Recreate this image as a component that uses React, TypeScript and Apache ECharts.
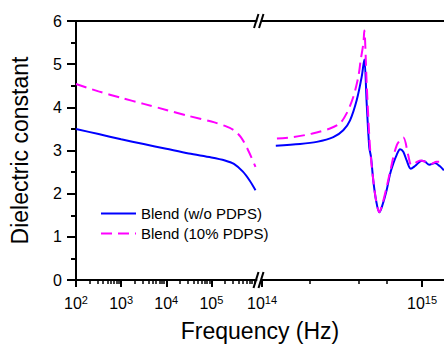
import React, { useEffect, useRef } from "react";
import * as echarts from "echarts";

// Left (low-frequency) segment, Hz
const blueLeftHz = [1e2, 3.16e2, 1e3, 3.16e3, 1e4, 3.16e4, 1e5, 2e5, 3.16e5, 5e5, 7.1e5, 9.5e5];
const blueLeftEps = [3.5, 3.38, 3.26, 3.15, 3.04, 2.93, 2.84, 2.77, 2.69, 2.51, 2.3, 2.08];
const pinkLeftHz = [1e2, 3.16e2, 1e3, 3.16e3, 1e4, 3.16e4, 1e5, 2e5, 3.16e5, 4.5e5, 6.3e5, 9.5e5];
const pinkLeftEps = [4.54, 4.37, 4.22, 4.08, 3.94, 3.8, 3.67, 3.57, 3.47, 3.31, 3.04, 2.62];

// Right (optical) segment, Hz
const blueRightHz = [
  1.22e14, 1.73e14, 2.2e14, 2.79e14, 3.22e14, 3.55e14, 3.91e14, 4.2e14, 4.36e14, 4.51e14,
  4.68e14, 4.8e14, 4.96e14, 5.16e14, 5.41e14, 5.62e14, 6.01e14, 6.31e14, 6.62e14, 6.95e14,
  7.29e14, 7.64e14, 8.02e14, 8.5e14, 9.04e14, 9.96e14, 1.045e15, 1.11e15, 1.205e15, 1.29e15, 1.37e15,
];
const blueRightEps = [
  3.11, 3.15, 3.2, 3.31, 3.47, 3.7, 4.17, 4.71, 5.11, 4.1,
  3.08, 2.85, 2.31, 1.85, 1.57, 1.7, 2.08, 2.45, 2.7, 2.9,
  3.03, 2.97, 2.77, 2.58, 2.64, 2.76, 2.74, 2.67, 2.71, 2.64, 2.54,
];
const pinkRightHz = [
  1.24e14, 1.57e14, 2.04e14, 2.66e14, 3.07e14, 3.38e14, 3.72e14, 4.0e14, 4.14e14, 4.3e14,
  4.36e14, 4.51e14, 4.73e14, 4.96e14, 5.16e14, 5.41e14, 5.62e14, 6.01e14, 6.31e14, 6.95e14,
  7.64e14, 8.2e14, 8.58e14, 9.15e14, 9.75e14, 1.07e15, 1.14e15, 1.23e15, 1.28e15,
];
const pinkRightEps = [
  3.28, 3.31, 3.39, 3.51, 3.63, 3.86, 4.24, 4.71, 5.1, 5.48,
  5.78, 4.55, 3.08, 2.31, 1.85, 1.57, 1.72, 2.15, 2.5, 3.12,
  3.3, 2.89, 2.66, 2.72, 2.77, 2.73, 2.69, 2.74, 2.74,
];

const leftMajorExp = [2, 3, 4, 5];
const rightMajorExp = [14, 15];
const rightMinorHz = [2e14, 4e14, 6e14];
const seriesNames = ["Blend (w/o PDPS)", "Blend (10% PDPS)"];

const FONT = "'Liberation Sans', Arial, sans-serif";

const toPts = (hz: number[], eps: number[]) => hz.map((f, i) => [Math.log10(f), eps[i]]);

export default function App() {
  const ref = useRef<HTMLDivElement>(null);
  useEffect(() => {
    if (!ref.current) return;
    const chart = echarts.init(ref.current, undefined, { renderer: "svg" });
    const leftMinor: number[] = [];
    for (let d = 2; d <= 5; d++) for (let k = 2; k <= 9; k++) leftMinor.push(Math.log10(k) + d);
    const rightMinor = rightMinorHz.map((f) => Math.log10(f));
    const axisLine = { show: true, onZero: false, lineStyle: { color: "#000", width: 2 } };
    const supLabel = {
      show: true,
      margin: 14,
      formatter: (v: number) => `{b|10}{s|${Math.round(v)}}`,
      rich: {
        b: { fontSize: 16, fontFamily: FONT, color: "#000", lineHeight: 18 },
        s: { fontSize: 11, fontFamily: FONT, color: "#000", verticalAlign: "top", lineHeight: 12 },
      },
    };
    const option: any = {
      animation: false,
      textStyle: { fontFamily: FONT },
      grid: [
        { left: 76, right: 187.5, top: 21, bottom: 64 },
        { left: 262, right: 0, top: 21, bottom: 64 },
      ],
      xAxis: [
        {
          type: "value", gridIndex: 0, position: "bottom", min: 2, max: 6, interval: 1,
          axisLine,
          axisTick: { show: true, inside: false, length: 7, lineStyle: { color: "#000", width: 2 }, customValues: leftMajorExp },
          axisLabel: { ...supLabel, customValues: leftMajorExp },
          splitLine: { show: false },
        },
        {
          type: "value", gridIndex: 0, position: "bottom", min: 2, max: 6,
          axisLine: { show: false, onZero: false },
          axisTick: { show: true, inside: false, length: 4, lineStyle: { color: "#000", width: 1.5 }, customValues: leftMinor },
          axisLabel: { show: false },
          splitLine: { show: false },
        },
        {
          type: "value", gridIndex: 0, position: "top", min: 2, max: 6,
          axisLine, axisTick: { show: false }, axisLabel: { show: false }, splitLine: { show: false },
        },
        {
          type: "value", gridIndex: 1, position: "bottom", min: 14, max: 15.1375, interval: 1,
          axisLine,
          axisTick: { show: true, inside: false, length: 7, lineStyle: { color: "#000", width: 2 }, customValues: rightMajorExp },
          axisLabel: { ...supLabel, customValues: rightMajorExp },
          splitLine: { show: false },
        },
        {
          type: "value", gridIndex: 1, position: "bottom", min: 14, max: 15.1375,
          axisLine: { show: false, onZero: false },
          axisTick: { show: true, inside: false, length: 4, lineStyle: { color: "#000", width: 1.5 }, customValues: rightMinor },
          axisLabel: { show: false },
          splitLine: { show: false },
        },
        {
          type: "value", gridIndex: 1, position: "top", min: 14, max: 15.1375,
          axisLine, axisTick: { show: false }, axisLabel: { show: false }, splitLine: { show: false },
        },
      ],
      yAxis: [
        {
          type: "value", gridIndex: 0, min: 0, max: 6, interval: 1,
          axisLine: { show: true, onZero: false, lineStyle: { color: "#000", width: 2 } },
          axisTick: { show: true, inside: false, length: 9, lineStyle: { color: "#000", width: 2 } },
          minorTick: { show: true, splitNumber: 2, length: 5, lineStyle: { color: "#000", width: 2 } },
          axisLabel: { show: true, fontSize: 16, color: "#000", margin: 14, fontFamily: FONT },
          splitLine: { show: false },
          minorSplitLine: { show: false },
          name: "Dielectric constant",
          nameLocation: "middle",
          nameGap: 45,
          nameTextStyle: { fontSize: 23, color: "#000", fontFamily: FONT },
        },
        {
          type: "value", gridIndex: 1, min: 0, max: 6, show: false,
        },
      ],
      legend: {
        orient: "vertical",
        left: 100,
        top: 206,
        padding: 0,
        itemWidth: 35,
        itemHeight: 14,
        itemGap: 5,
        data: seriesNames,
        itemStyle: { opacity: 0 },
        textStyle: { fontSize: 15, color: "#000", fontFamily: FONT, lineHeight: 14 },
      },
      series: [
        {
          name: seriesNames[0], type: "line", xAxisIndex: 0, yAxisIndex: 0,
          data: toPts(blueLeftHz, blueLeftEps), smooth: 0.3, symbol: "none",
          lineStyle: { color: "#0000ff", width: 2 }, itemStyle: { color: "#0000ff" },
        },
        {
          name: seriesNames[1], type: "line", xAxisIndex: 0, yAxisIndex: 0,
          data: toPts(pinkLeftHz, pinkLeftEps), smooth: 0.3, symbol: "none",
          lineStyle: { color: "#ff00ff", width: 2, type: [11, 6] }, itemStyle: { color: "#ff00ff" },
        },
        {
          name: seriesNames[0], type: "line", xAxisIndex: 3, yAxisIndex: 1,
          data: toPts(blueRightHz, blueRightEps), smooth: 0.3, symbol: "none",
          lineStyle: { color: "#0000ff", width: 2 }, itemStyle: { color: "#0000ff" },
        },
        {
          name: seriesNames[1], type: "line", xAxisIndex: 3, yAxisIndex: 1,
          data: toPts(pinkRightHz, pinkRightEps), smooth: 0.3, symbol: "none",
          lineStyle: { color: "#ff00ff", width: 2, type: [11, 6] }, itemStyle: { color: "#ff00ff" },
        },
      ],
      graphic: [
        { type: "line", shape: { x1: 254, y1: 28, x2: 258.5, y2: 14 }, style: { stroke: "#000", lineWidth: 2 } },
        { type: "line", shape: { x1: 259, y1: 28, x2: 263.5, y2: 14 }, style: { stroke: "#000", lineWidth: 2 } },
        { type: "line", shape: { x1: 253.5, y1: 288, x2: 258.5, y2: 272 }, style: { stroke: "#000", lineWidth: 2 } },
        { type: "line", shape: { x1: 258.5, y1: 288, x2: 263.5, y2: 272 }, style: { stroke: "#000", lineWidth: 2 } },
        {
          type: "text", x: 260, y: 331,
          style: { text: "Frequency (Hz)", fontSize: 23, fontFamily: FONT, fill: "#000", align: "center", verticalAlign: "middle" },
        },
      ],
    };
    chart.setOption(option);
    return () => chart.dispose();
  }, []);
  return (
    <div
      ref={ref}
      style={{ position: "fixed", left: 0, top: 0, width: 444, height: 344, background: "#fff" }}
    />
  );
}
